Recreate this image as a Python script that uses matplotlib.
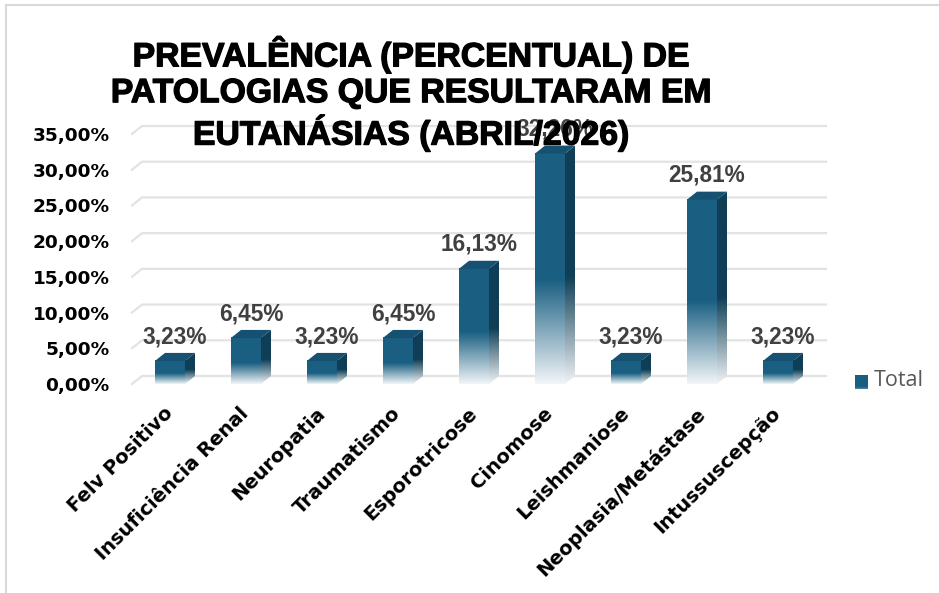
import numpy as np
import matplotlib.pyplot as plt
import matplotlib.patheffects as pe
from matplotlib.patches import Polygon
from matplotlib.lines import Line2D
from matplotlib.colors import to_rgb

# dados
categorias = ["Felv Positivo", "Insuficiência Renal", "Neuropatia", "Traumatismo",
              "Esporotricose", "Cinomose", "Leishmaniose", "Neoplasia/Metástase",
              "Intussuscepção"]
valores = [3.23, 6.45, 3.23, 6.45, 16.13, 32.26, 3.23, 25.81, 3.23]
yticks = [0, 5, 10, 15, 20, 25, 30, 35]
ytick_labels = ["0,00%", "5,00%", "10,00%", "15,00%", "20,00%", "25,00%", "30,00%", "35,00%"]
titulo = "PREVALÊNCIA (PERCENTUAL) DE\nPATOLOGIAS QUE RESULTARAM EM\nEUTANÁSIAS (ABRIL/2026)"
serie = "Total"

frente = to_rgb("#1a5f82")
lado = to_rgb("#0f3e56")
topo = to_rgb("#175171")
branco = np.array([1.0, 1.0, 1.0])


def gradiente(cor, n=200):
    f = np.linspace(0, 1, n)
    a = np.clip(0.06 + f / 0.48, 0, 1)
    rgb = branco[None, :] * (1 - a[:, None]) + np.array(cor)[None, :] * a[:, None]
    return rgb[:, None, :]


W, H = 939, 593
fig = plt.figure(figsize=(W / 100, H / 100), dpi=100)
ax = fig.add_axes([132 / W, 1 - 384 / H, 684 / W, 250 / H])

largura = 0.395
dx = 10 / 76.0
dy = 8 / (250 / 35.0)
xmin, xmax = -0.5, 8.5

# linhas de grade (parede do fundo)
for y in yticks:
    ax.plot([xmin, xmin + dx, xmax + dx], [y, y + dy, y + dy], color="#e3e3e3",
            lw=1.6, zorder=1, clip_on=False)

for i, v in enumerate(valores):
    x0, x1 = i - largura / 2, i + largura / 2
    ax.imshow(gradiente(frente), extent=[x0, x1, 0, v], origin="lower", aspect="auto",
              interpolation="bilinear", zorder=3)
    # lateral
    poly = Polygon([(x1, 0), (x1 + dx, dy), (x1 + dx, v + dy), (x1, v)], closed=True,
                   facecolor="none", edgecolor="none")
    ax.add_patch(poly)
    im2 = ax.imshow(gradiente(lado), extent=[x1, x1 + dx, 0, v + dy], origin="lower",
                    aspect="auto", interpolation="bilinear", zorder=3)
    im2.set_clip_path(poly)
    # topo
    ax.add_patch(Polygon([(x0, v), (x0 + dx, v + dy), (x1 + dx, v + dy), (x1, v)],
                         closed=True, facecolor=topo, edgecolor="none", zorder=3))
    ax.annotate(f"{v:.2f}%".replace(".", ","), (i + dx / 2, v + dy), xytext=(0, 3.5),
                textcoords="offset points", ha="center", va="bottom",
                fontsize=16.3, fontweight="bold", color="#404040",
                family="Liberation Sans", zorder=4)

ax.set_xlim(xmin, xmax)
ax.set_ylim(0, 35)
for s in ax.spines.values():
    s.set_visible(False)
ax.set_yticks(yticks)
ax.set_yticklabels(ytick_labels, fontsize=13.3, fontweight="bold", family="DejaVu Sans")
ax.set_xticks(range(len(categorias)))
ax.set_xticklabels(categorias, rotation=45, ha="right", va="center",
                   rotation_mode="anchor", fontsize=14, fontweight="bold",
                   family="DejaVu Sans")
ax.tick_params(axis="y", length=0, pad=16)
ax.tick_params(axis="x", length=0, pad=19)
for lb in ax.get_xticklabels():
    lb.set_x(lb.get_position()[0])

# título
fig.text(411 / W, 1 - 94 / H, titulo, ha="center", va="center", fontsize=24.3,
         fontweight="bold", family="Liberation Sans", linespacing=1.2, zorder=10,
         path_effects=[pe.withStroke(linewidth=0.9, foreground="black")])

# legenda
lax = fig.add_axes([855 / W, 1 - 389 / H, 13 / W, 14 / H])
lax.imshow(gradiente(frente), origin="lower", aspect="auto", interpolation="bilinear",
           extent=[0, 1, -0.5, 1])
lax.set_ylim(0, 1)
lax.axis("off")
fig.text(874 / W, 1 - 381 / H, serie, ha="left", va="center", fontsize=15.5,
         color="#595959", family="Open Sans")

# moldura
fig.add_artist(Line2D([6 / W, 6 / W], [0, 1 - 5 / H], color="#d9d9d9", lw=1.5))
fig.add_artist(Line2D([6 / W, 1], [1 - 5 / H, 1 - 5 / H], color="#d9d9d9", lw=1.5))

fig.savefig("out.png", dpi=100)
